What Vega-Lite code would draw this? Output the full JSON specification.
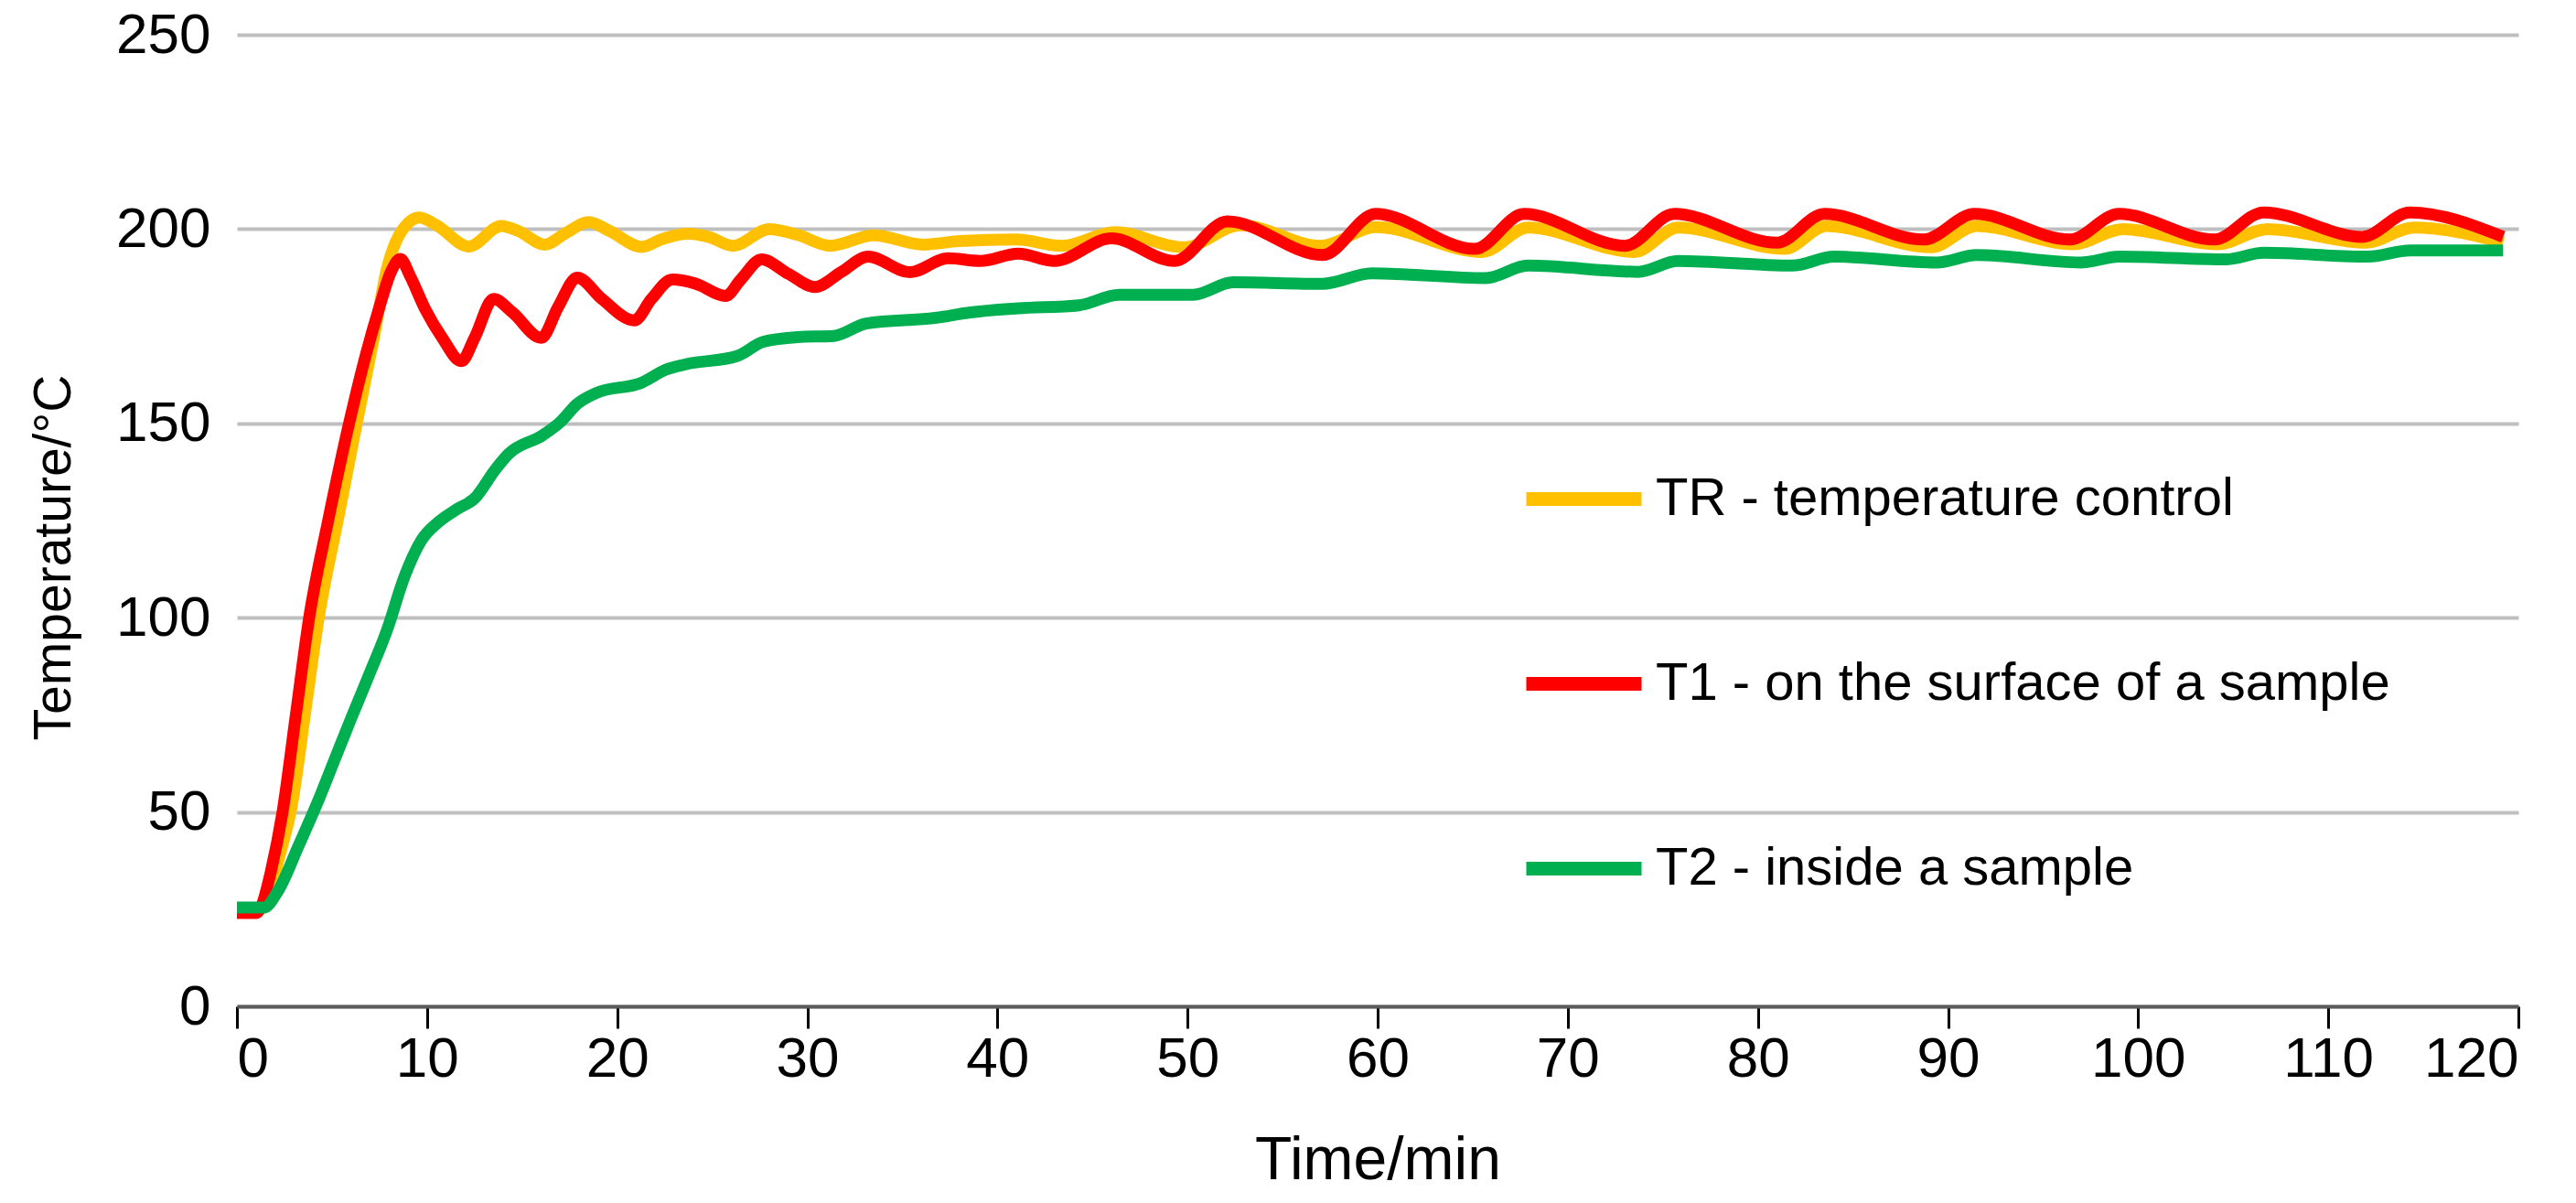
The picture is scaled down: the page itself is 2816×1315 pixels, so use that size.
{
  "$schema": "https://vega.github.io/schema/vega-lite/v6.json",
  "autosize": {"type": "none"},
  "padding": {"left": 259, "top": 38, "right": 63, "bottom": 215},
  "width": 2494,
  "height": 1062,
  "background": "white",
  "config": {
    "font": "Liberation Sans",
    "view": {"stroke": null}
  },
  "data": {
    "values": [
      {"t": 0, "s": "TR - temperature control", "T": 25},
      {"t": 1.2, "s": "TR - temperature control", "T": 25},
      {"t": 1.6, "s": "TR - temperature control", "T": 27},
      {"t": 2.2, "s": "TR - temperature control", "T": 38},
      {"t": 2.9, "s": "TR - temperature control", "T": 52},
      {"t": 3.6, "s": "TR - temperature control", "T": 76},
      {"t": 4.3, "s": "TR - temperature control", "T": 100},
      {"t": 5.3, "s": "TR - temperature control", "T": 125},
      {"t": 6.3, "s": "TR - temperature control", "T": 150},
      {"t": 7.2, "s": "TR - temperature control", "T": 172},
      {"t": 7.9, "s": "TR - temperature control", "T": 190},
      {"t": 8.6, "s": "TR - temperature control", "T": 199},
      {"t": 9.6, "s": "TR - temperature control", "T": 203},
      {"t": 10.5, "s": "TR - temperature control", "T": 201},
      {"t": 12.2, "s": "TR - temperature control", "T": 195.5},
      {"t": 13.9, "s": "TR - temperature control", "T": 200.8},
      {"t": 14.8, "s": "TR - temperature control", "T": 199.5},
      {"t": 16.2, "s": "TR - temperature control", "T": 196},
      {"t": 17.3, "s": "TR - temperature control", "T": 199},
      {"t": 18.5, "s": "TR - temperature control", "T": 201.8},
      {"t": 19.6, "s": "TR - temperature control", "T": 199.5},
      {"t": 21.3, "s": "TR - temperature control", "T": 195.4},
      {"t": 22.4, "s": "TR - temperature control", "T": 197.5},
      {"t": 23.7, "s": "TR - temperature control", "T": 198.8},
      {"t": 24.8, "s": "TR - temperature control", "T": 198},
      {"t": 26.1, "s": "TR - temperature control", "T": 195.7},
      {"t": 28, "s": "TR - temperature control", "T": 200},
      {"t": 29.5, "s": "TR - temperature control", "T": 198.5},
      {"t": 31.2, "s": "TR - temperature control", "T": 195.7},
      {"t": 33.5, "s": "TR - temperature control", "T": 198.4},
      {"t": 36.1, "s": "TR - temperature control", "T": 196},
      {"t": 38, "s": "TR - temperature control", "T": 196.9},
      {"t": 41, "s": "TR - temperature control", "T": 197.3},
      {"t": 43.4, "s": "TR - temperature control", "T": 195.7},
      {"t": 46.2, "s": "TR - temperature control", "T": 199.2},
      {"t": 49.8, "s": "TR - temperature control", "T": 195.3},
      {"t": 52.8, "s": "TR - temperature control", "T": 201},
      {"t": 57, "s": "TR - temperature control", "T": 195.7},
      {"t": 59.9, "s": "TR - temperature control", "T": 200.5},
      {"t": 65.5, "s": "TR - temperature control", "T": 194.1},
      {"t": 67.9, "s": "TR - temperature control", "T": 200.4},
      {"t": 73.5, "s": "TR - temperature control", "T": 194.1},
      {"t": 75.8, "s": "TR - temperature control", "T": 200.4},
      {"t": 81.4, "s": "TR - temperature control", "T": 194.9},
      {"t": 83.6, "s": "TR - temperature control", "T": 200.8},
      {"t": 89.1, "s": "TR - temperature control", "T": 195.3},
      {"t": 91.5, "s": "TR - temperature control", "T": 200.8},
      {"t": 96.6, "s": "TR - temperature control", "T": 196.1},
      {"t": 99.2, "s": "TR - temperature control", "T": 200},
      {"t": 104.2, "s": "TR - temperature control", "T": 196.1},
      {"t": 106.8, "s": "TR - temperature control", "T": 200},
      {"t": 112, "s": "TR - temperature control", "T": 196.5},
      {"t": 114.5, "s": "TR - temperature control", "T": 200.4},
      {"t": 119.2, "s": "TR - temperature control", "T": 196.5},

      {"t": 0, "s": "T1 - on the surface of a sample", "T": 24},
      {"t": 1.0, "s": "T1 - on the surface of a sample", "T": 24},
      {"t": 1.3, "s": "T1 - on the surface of a sample", "T": 26},
      {"t": 1.8, "s": "T1 - on the surface of a sample", "T": 35},
      {"t": 2.4, "s": "T1 - on the surface of a sample", "T": 50},
      {"t": 3.1, "s": "T1 - on the surface of a sample", "T": 75},
      {"t": 3.8, "s": "T1 - on the surface of a sample", "T": 100},
      {"t": 4.8, "s": "T1 - on the surface of a sample", "T": 125},
      {"t": 5.9, "s": "T1 - on the surface of a sample", "T": 150},
      {"t": 6.8, "s": "T1 - on the surface of a sample", "T": 168},
      {"t": 7.5, "s": "T1 - on the surface of a sample", "T": 180},
      {"t": 8.1, "s": "T1 - on the surface of a sample", "T": 189},
      {"t": 8.6, "s": "T1 - on the surface of a sample", "T": 192.3},
      {"t": 9.1, "s": "T1 - on the surface of a sample", "T": 188},
      {"t": 9.9, "s": "T1 - on the surface of a sample", "T": 179.4},
      {"t": 10.8, "s": "T1 - on the surface of a sample", "T": 172},
      {"t": 11.8, "s": "T1 - on the surface of a sample", "T": 166},
      {"t": 12.5, "s": "T1 - on the surface of a sample", "T": 172},
      {"t": 13.5, "s": "T1 - on the surface of a sample", "T": 182},
      {"t": 14.5, "s": "T1 - on the surface of a sample", "T": 178.5},
      {"t": 16, "s": "T1 - on the surface of a sample", "T": 172},
      {"t": 16.9, "s": "T1 - on the surface of a sample", "T": 180},
      {"t": 17.9, "s": "T1 - on the surface of a sample", "T": 187.5},
      {"t": 19.2, "s": "T1 - on the surface of a sample", "T": 182},
      {"t": 20.9, "s": "T1 - on the surface of a sample", "T": 176.5},
      {"t": 21.8, "s": "T1 - on the surface of a sample", "T": 182},
      {"t": 22.9, "s": "T1 - on the surface of a sample", "T": 187},
      {"t": 24.1, "s": "T1 - on the surface of a sample", "T": 186},
      {"t": 25.7, "s": "T1 - on the surface of a sample", "T": 182.8},
      {"t": 26.5, "s": "T1 - on the surface of a sample", "T": 187},
      {"t": 27.6, "s": "T1 - on the surface of a sample", "T": 192.2},
      {"t": 29, "s": "T1 - on the surface of a sample", "T": 188.5},
      {"t": 30.4, "s": "T1 - on the surface of a sample", "T": 185.1},
      {"t": 31.8, "s": "T1 - on the surface of a sample", "T": 189},
      {"t": 33.2, "s": "T1 - on the surface of a sample", "T": 192.9},
      {"t": 35.4, "s": "T1 - on the surface of a sample", "T": 188.9},
      {"t": 37.4, "s": "T1 - on the surface of a sample", "T": 192.5},
      {"t": 39.1, "s": "T1 - on the surface of a sample", "T": 191.8},
      {"t": 41.1, "s": "T1 - on the surface of a sample", "T": 193.7},
      {"t": 43, "s": "T1 - on the surface of a sample", "T": 191.8},
      {"t": 46, "s": "T1 - on the surface of a sample", "T": 197.6},
      {"t": 49.3, "s": "T1 - on the surface of a sample", "T": 191.8},
      {"t": 52.1, "s": "T1 - on the surface of a sample", "T": 202},
      {"t": 57.1, "s": "T1 - on the surface of a sample", "T": 193.3},
      {"t": 59.9, "s": "T1 - on the surface of a sample", "T": 203.9},
      {"t": 65.1, "s": "T1 - on the surface of a sample", "T": 194.9},
      {"t": 67.7, "s": "T1 - on the surface of a sample", "T": 203.9},
      {"t": 73, "s": "T1 - on the surface of a sample", "T": 195.7},
      {"t": 75.6, "s": "T1 - on the surface of a sample", "T": 203.9},
      {"t": 81, "s": "T1 - on the surface of a sample", "T": 196.5},
      {"t": 83.5, "s": "T1 - on the surface of a sample", "T": 203.9},
      {"t": 88.7, "s": "T1 - on the surface of a sample", "T": 197.3},
      {"t": 91.4, "s": "T1 - on the surface of a sample", "T": 203.9},
      {"t": 96.4, "s": "T1 - on the surface of a sample", "T": 197.3},
      {"t": 99, "s": "T1 - on the surface of a sample", "T": 203.9},
      {"t": 104, "s": "T1 - on the surface of a sample", "T": 197.3},
      {"t": 106.6, "s": "T1 - on the surface of a sample", "T": 204.3},
      {"t": 111.8, "s": "T1 - on the surface of a sample", "T": 198},
      {"t": 114.3, "s": "T1 - on the surface of a sample", "T": 204.3},
      {"t": 119.2, "s": "T1 - on the surface of a sample", "T": 198},

      {"t": 0, "s": "T2 - inside a sample", "T": 25.4},
      {"t": 1.4, "s": "T2 - inside a sample", "T": 25.4},
      {"t": 2.2, "s": "T2 - inside a sample", "T": 30},
      {"t": 3.25, "s": "T2 - inside a sample", "T": 41.4},
      {"t": 4.2, "s": "T2 - inside a sample", "T": 52},
      {"t": 5.1, "s": "T2 - inside a sample", "T": 63},
      {"t": 6.0, "s": "T2 - inside a sample", "T": 74},
      {"t": 6.9, "s": "T2 - inside a sample", "T": 84.7},
      {"t": 7.9, "s": "T2 - inside a sample", "T": 96.9},
      {"t": 8.8, "s": "T2 - inside a sample", "T": 110.4},
      {"t": 9.7, "s": "T2 - inside a sample", "T": 119.9},
      {"t": 10.6, "s": "T2 - inside a sample", "T": 124.6},
      {"t": 11.6, "s": "T2 - inside a sample", "T": 128},
      {"t": 12.5, "s": "T2 - inside a sample", "T": 130.7},
      {"t": 13.6, "s": "T2 - inside a sample", "T": 138.2},
      {"t": 14.3, "s": "T2 - inside a sample", "T": 142.2},
      {"t": 16.1, "s": "T2 - inside a sample", "T": 147},
      {"t": 17, "s": "T2 - inside a sample", "T": 150.3},
      {"t": 17.9, "s": "T2 - inside a sample", "T": 155},
      {"t": 18.9, "s": "T2 - inside a sample", "T": 157.8},
      {"t": 21.3, "s": "T2 - inside a sample", "T": 160.5},
      {"t": 22.6, "s": "T2 - inside a sample", "T": 163.9},
      {"t": 23.6, "s": "T2 - inside a sample", "T": 165.2},
      {"t": 26.3, "s": "T2 - inside a sample", "T": 167.3},
      {"t": 27.7, "s": "T2 - inside a sample", "T": 171},
      {"t": 29.5, "s": "T2 - inside a sample", "T": 172.2},
      {"t": 31.4, "s": "T2 - inside a sample", "T": 172.5},
      {"t": 33.1, "s": "T2 - inside a sample", "T": 175.7},
      {"t": 36.8, "s": "T2 - inside a sample", "T": 177.2},
      {"t": 38.5, "s": "T2 - inside a sample", "T": 178.5},
      {"t": 41.1, "s": "T2 - inside a sample", "T": 179.6},
      {"t": 44.3, "s": "T2 - inside a sample", "T": 180.4},
      {"t": 46.4, "s": "T2 - inside a sample", "T": 183.1},
      {"t": 50.3, "s": "T2 - inside a sample", "T": 183.1},
      {"t": 52.4, "s": "T2 - inside a sample", "T": 186.3},
      {"t": 57.1, "s": "T2 - inside a sample", "T": 185.9},
      {"t": 59.7, "s": "T2 - inside a sample", "T": 188.6},
      {"t": 65.7, "s": "T2 - inside a sample", "T": 187.4},
      {"t": 67.9, "s": "T2 - inside a sample", "T": 190.6},
      {"t": 73.7, "s": "T2 - inside a sample", "T": 189},
      {"t": 75.8, "s": "T2 - inside a sample", "T": 191.8},
      {"t": 81.8, "s": "T2 - inside a sample", "T": 190.6},
      {"t": 84, "s": "T2 - inside a sample", "T": 192.9},
      {"t": 89.4, "s": "T2 - inside a sample", "T": 191.4},
      {"t": 91.5, "s": "T2 - inside a sample", "T": 193.3},
      {"t": 97, "s": "T2 - inside a sample", "T": 191.4},
      {"t": 99, "s": "T2 - inside a sample", "T": 192.9},
      {"t": 104.6, "s": "T2 - inside a sample", "T": 192.2},
      {"t": 106.6, "s": "T2 - inside a sample", "T": 193.9},
      {"t": 112.1, "s": "T2 - inside a sample", "T": 192.9},
      {"t": 114.3, "s": "T2 - inside a sample", "T": 194.5},
      {"t": 119.2, "s": "T2 - inside a sample", "T": 194.5}
    ]
  },
  "encoding": {
    "x": {
      "field": "t",
      "type": "quantitative",
      "scale": {"domain": [0, 120], "nice": false, "zero": false},
      "axis": {
        "title": "Time/min",
        "values": [0, 10, 20, 30, 40, 50, 60, 70, 80, 90, 100, 110, 120],
        "grid": false,
        "domainColor": "#5a5a5a",
        "domainWidth": 4,
        "tickColor": "#000000",
        "tickWidth": 3,
        "tickSize": 24,
        "labelFontSize": 62,
        "labelColor": "#000000",
        "labelPadding": 3,
        "labelFont": "Liberation Sans",
        "titleFont": "Liberation Sans",
        "titleFontSize": 66,
        "titleFontWeight": "normal",
        "titleColor": "#000000",
        "titlePadding": 48
      }
    },
    "y": {
      "field": "T",
      "type": "quantitative",
      "scale": {"domain": [0, 250], "nice": false},
      "axis": {
        "title": "Temperature/°C",
        "values": [0, 50, 100, 150, 200, 250],
        "grid": true,
        "gridColor": "#bfbfbf",
        "gridWidth": 4,
        "domain": false,
        "ticks": false,
        "tickSize": 0,
        "labelFontSize": 62,
        "labelColor": "#000000",
        "labelPadding": 29,
        "labelFont": "Liberation Sans",
        "titleFont": "Liberation Sans",
        "titleFontSize": 57,
        "titleFontWeight": "normal",
        "titleColor": "#000000",
        "titlePadding": 38,
        "titleY": 571
      }
    },
    "color": {
      "field": "s",
      "type": "nominal",
      "scale": {
        "domain": ["TR - temperature control", "T1 - on the surface of a sample", "T2 - inside a sample"],
        "range": ["#ffc000", "#ff0000", "#00b050"]
      },
      "legend": {
        "title": null,
        "orient": "none",
        "legendX": 1402,
        "legendY": 437,
        "padding": 0,
        "symbolType": "stroke",
        "symbolSize": 15876,
        "symbolStrokeWidth": 15,
        "labelFontSize": 58,
        "labelFont": "Liberation Sans",
        "labelColor": "#000000",
        "labelOffset": 8,
        "labelLimit": 2000,
        "rowPadding": 101
      }
    }
  },
  "layer": [
    {
      "transform": [{"filter": "datum.s == 'TR - temperature control'"}],
      "mark": {"type": "line", "strokeWidth": 13, "interpolate": "monotone", "strokeCap": "butt", "strokeJoin": "round"}
    },
    {
      "transform": [{"filter": "datum.s == 'T1 - on the surface of a sample'"}],
      "mark": {"type": "line", "strokeWidth": 13, "interpolate": "monotone", "strokeCap": "butt", "strokeJoin": "round"}
    },
    {
      "transform": [{"filter": "datum.s == 'T2 - inside a sample'"}],
      "mark": {"type": "line", "strokeWidth": 13, "interpolate": "monotone", "strokeCap": "butt", "strokeJoin": "round"}
    }
  ]
}
